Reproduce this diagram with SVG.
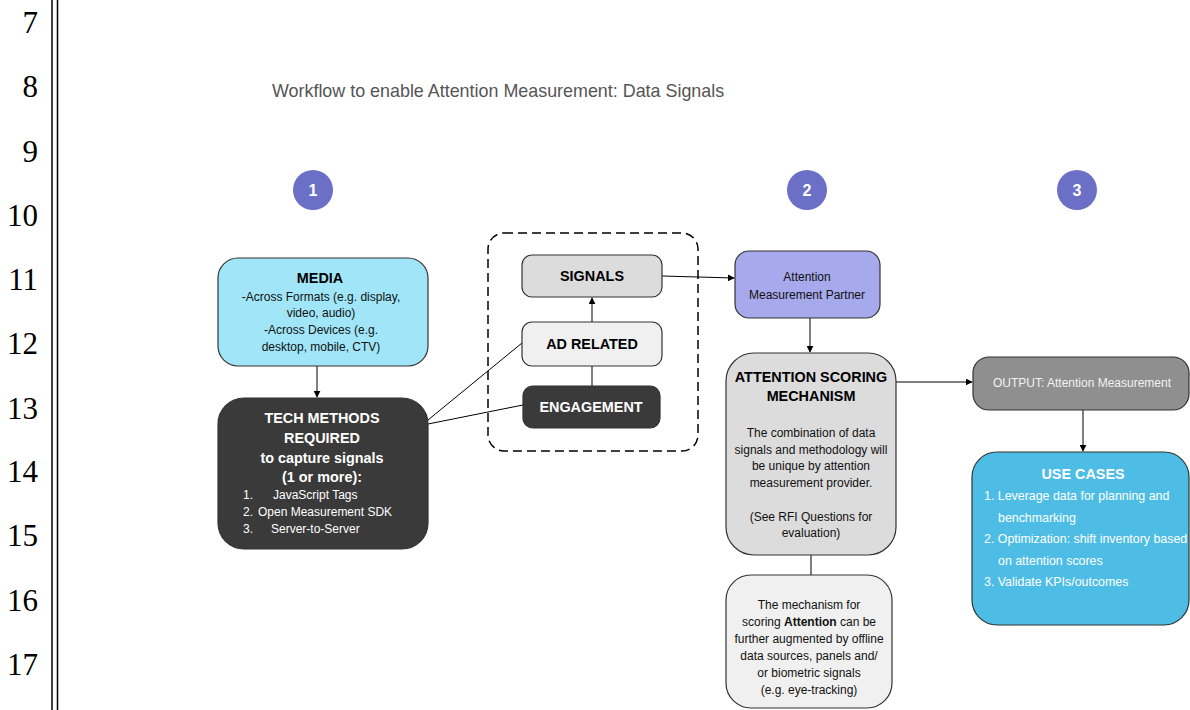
<svg xmlns="http://www.w3.org/2000/svg" width="1190" height="710" viewBox="0 0 1190 710">
  <defs>
    <marker id="arrow" viewBox="0 0 10 10" refX="9" refY="5" markerWidth="7" markerHeight="7" orient="auto" markerUnits="userSpaceOnUse">
      <path d="M0,0 L10,5 L0,10 z" fill="#000"/>
    </marker>
    <style>
      .ln { font-family: "Liberation Serif", serif; font-size: 31px; fill: #000; text-anchor: end; }
      .t { font-family: "Liberation Sans", Arial, sans-serif; }
      .c { text-anchor: middle; }
      .h { font-weight: bold; font-size: 14.4px; }
      .b { font-size: 12px; }
      .u { font-size: 12.4px; }
      .box { stroke: #333; stroke-width: 1.2; }
      .edge { stroke: #000; stroke-width: 1; fill: none; }
      .step circle { fill: #6b6fc6; }
      .step text { font-family: "Liberation Sans", Arial, sans-serif; font-weight: bold; font-size: 16px; fill: #fff; text-anchor: middle; }
    </style>
  </defs>
  <rect width="1190" height="710" fill="#fff"/>

  <!-- line numbers and margin rule -->
  <g id="margin">
    <text class="ln" x="38" y="33">7</text>
    <text class="ln" x="38" y="97">8</text>
    <text class="ln" x="38" y="162">9</text>
    <text class="ln" x="38" y="226">10</text>
    <text class="ln" x="38" y="290">11</text>
    <text class="ln" x="38" y="354">12</text>
    <text class="ln" x="38" y="419">13</text>
    <text class="ln" x="38" y="482">14</text>
    <text class="ln" x="38" y="546">15</text>
    <text class="ln" x="38" y="611">16</text>
    <text class="ln" x="38" y="675">17</text>
    <line x1="52" y1="0" x2="52" y2="710" stroke="#000" stroke-width="1.5"/>
    <line x1="57.5" y1="0" x2="57.5" y2="710" stroke="#000" stroke-width="1.5"/>
  </g>

  <text id="title" class="t" x="272" y="97" font-size="17.9" fill="#555">Workflow to enable Attention Measurement: Data Signals</text>

  <!-- step markers -->
  <g id="step1" class="step"><circle cx="313" cy="190" r="20"/><text x="313" y="196">1</text></g>
  <g id="step2" class="step"><circle cx="807" cy="190" r="20"/><text x="807" y="196">2</text></g>
  <g id="step3" class="step"><circle cx="1077" cy="190" r="20"/><text x="1077" y="196">3</text></g>

  <!-- dashed grouping around the signal types -->
  <g id="signal-group">
    <rect x="488" y="233" width="210" height="218" rx="16" fill="none" stroke="#000" stroke-width="1.5" stroke-dasharray="9,5"/>
  </g>

  <!-- connectors -->
  <g id="connectors">
    <line class="edge" x1="317" y1="366" x2="317" y2="397" marker-end="url(#arrow)"/>
    <line class="edge" x1="428" y1="420" x2="522" y2="343"/>
    <line class="edge" x1="428" y1="424" x2="523" y2="405"/>
    <line class="edge" x1="592" y1="386" x2="592" y2="366"/>
    <line class="edge" x1="592" y1="322" x2="592" y2="298" marker-end="url(#arrow)"/>
    <line class="edge" x1="662" y1="276" x2="734" y2="278" marker-end="url(#arrow)"/>
    <line class="edge" x1="810" y1="318" x2="810" y2="352" marker-end="url(#arrow)"/>
    <line class="edge" x1="811" y1="555" x2="811" y2="575"/>
    <line class="edge" x1="896" y1="382" x2="972" y2="382" marker-end="url(#arrow)"/>
    <line class="edge" x1="1083" y1="410" x2="1083" y2="451" marker-end="url(#arrow)"/>
  </g>

  <g id="media">
    <rect class="box" x="218" y="258" width="210" height="108" rx="20" fill="#a0e6f8"/>
    <text class="t c h" x="320" y="283" fill="#000">MEDIA</text>
    <text class="t c b" x="321" y="301" fill="#111">-Across Formats (e.g. display,</text>
    <text class="t c b" x="321" y="317" fill="#111">video, audio)</text>
    <text class="t c b" x="321" y="334" fill="#111">-Across Devices (e.g.</text>
    <text class="t c b" x="321" y="351" fill="#111">desktop, mobile, CTV)</text>
  </g>

  <g id="tech-methods">
    <rect class="box" x="218" y="398" width="210" height="151" rx="26" fill="#3a3a3a"/>
    <text class="t c h" x="322" y="423" fill="#fff">TECH METHODS</text>
    <text class="t c h" x="322" y="443" fill="#fff">REQUIRED</text>
    <text class="t c h" x="322" y="463" fill="#fff">to capture signals</text>
    <text class="t c h" x="322" y="482" fill="#fff">(1 or more):</text>
    <text class="t b" x="243" y="499" fill="#fff">1.</text>
    <text class="t b" x="273" y="499" fill="#fff">JavaScript Tags</text>
    <text class="t b" x="243" y="516" fill="#fff">2.</text>
    <text class="t b" x="258" y="516" fill="#fff">Open Measurement SDK</text>
    <text class="t b" x="243" y="533" fill="#fff">3.</text>
    <text class="t b" x="271" y="533" fill="#fff">Server-to-Server</text>
  </g>

  <g id="signals">
    <rect class="box" x="522" y="255" width="140" height="42" rx="10" fill="#dcdcdc"/>
    <text class="t c h" x="592" y="281" fill="#000">SIGNALS</text>
  </g>

  <g id="ad-related">
    <rect class="box" x="522" y="322" width="140" height="44" rx="10" fill="#f0f0f0"/>
    <text class="t c h" x="592" y="349" fill="#000">AD RELATED</text>
  </g>

  <g id="engagement">
    <rect class="box" x="523" y="386" width="137" height="42" rx="10" fill="#3a3a3a"/>
    <text class="t c h" x="591" y="412" fill="#fff">ENGAGEMENT</text>
  </g>

  <g id="partner">
    <rect class="box" x="735" y="251" width="145" height="67" rx="14" fill="#a6a9ec"/>
    <text class="t c b" x="807" y="281" fill="#111">Attention</text>
    <text class="t c b" x="807" y="299" fill="#111">Measurement Partner</text>
  </g>

  <g id="scoring">
    <rect class="box" x="726" y="353" width="170" height="202" rx="28" fill="#dcdcdc"/>
    <text class="t c h" x="811" y="382" fill="#000">ATTENTION SCORING</text>
    <text class="t c h" x="811" y="401" fill="#000">MECHANISM</text>
    <text class="t c b" x="811" y="437" fill="#111">The combination of data</text>
    <text class="t c b" x="811" y="454" fill="#111">signals and methodology will</text>
    <text class="t c b" x="811" y="470" fill="#111">be unique by attention</text>
    <text class="t c b" x="811" y="487" fill="#111">measurement provider.</text>
    <text class="t c b" x="811" y="521" fill="#111">(See RFI Questions for</text>
    <text class="t c b" x="811" y="537" fill="#111">evaluation)</text>
  </g>

  <g id="augmentation">
    <rect class="box" x="726" y="575" width="166" height="133" rx="25" fill="#f0f0f0"/>
    <text class="t c b" x="809" y="609" fill="#111">The mechanism for</text>
    <text class="t c b" x="809" y="626" fill="#111">scoring <tspan font-weight="bold">Attention</tspan> can be</text>
    <text class="t c b" x="809" y="643" fill="#111">further augmented by offline</text>
    <text class="t c b" x="809" y="660" fill="#111">data sources, panels and/</text>
    <text class="t c b" x="809" y="677" fill="#111">or biometric signals</text>
    <text class="t c b" x="809" y="694" fill="#111">(e.g. eye-tracking)</text>
  </g>

  <g id="output">
    <rect class="box" x="973" y="357" width="216" height="53" rx="16" fill="#8f8f8f"/>
    <text class="t c b" x="1082" y="387" fill="#f2f2f2">OUTPUT: Attention Measurement</text>
  </g>

  <g id="use-cases">
    <rect class="box" x="972" y="452" width="217" height="173" rx="25" fill="#4ebde6"/>
    <text class="t c h" x="1083" y="479" fill="#fff">USE CASES</text>
    <text class="t u" x="984" y="500" fill="#fff">1. Leverage data for planning and</text>
    <text class="t u" x="998" y="522" fill="#fff">benchmarking</text>
    <text class="t u" x="984" y="543" fill="#fff">2. Optimization: shift inventory based</text>
    <text class="t u" x="998" y="565" fill="#fff">on attention scores</text>
    <text class="t u" x="984" y="586" fill="#fff">3. Validate KPIs/outcomes</text>
  </g>
</svg>
